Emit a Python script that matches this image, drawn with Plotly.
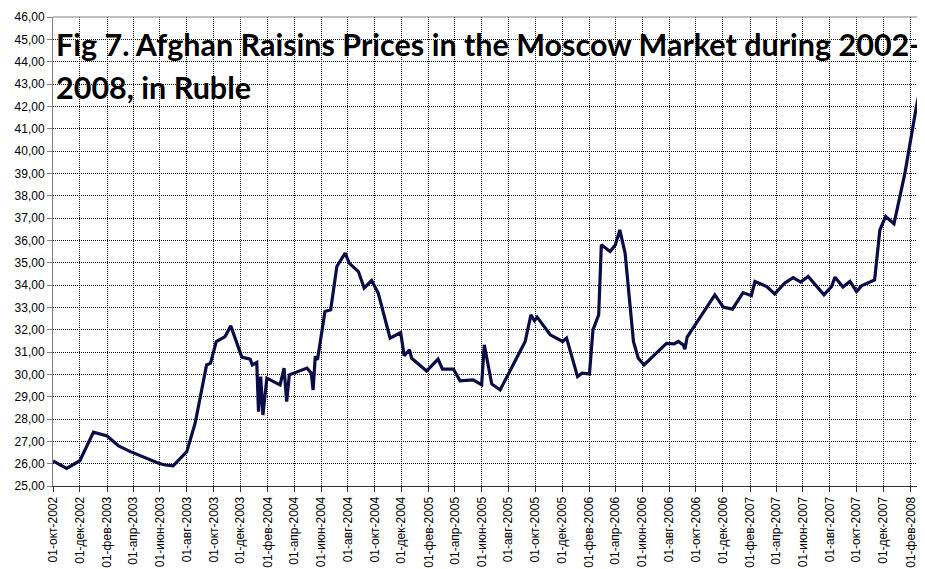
import plotly.graph_objects as go

# ---- data ----
dates = [
    "2002-10-01", "2002-11-01", "2002-12-01", "2003-01-01", "2003-02-01", "2003-02-27",
    "2003-03-26", "2003-05-29", "2003-06-13", "2003-07-01", "2003-08-01", "2003-08-20",
    "2003-09-15", "2003-09-24", "2003-10-07", "2003-10-27", "2003-11-09", "2003-12-04",
    "2003-12-23", "2003-12-28", "2004-01-07", "2004-01-11", "2004-01-16", "2004-01-21",
    "2004-01-30", "2004-02-29", "2004-03-09", "2004-03-15", "2004-03-21", "2004-04-30",
    "2004-05-10", "2004-05-14", "2004-05-19", "2004-05-24", "2004-06-10", "2004-06-23",
    "2004-07-07", "2004-07-26", "2004-08-04", "2004-08-25", "2004-09-07", "2004-09-24",
    "2004-10-09", "2004-11-05", "2004-11-29", "2004-12-07", "2004-12-19", "2004-12-24",
    "2005-01-27", "2005-02-22", "2005-03-04", "2005-03-29", "2005-04-13", "2005-05-13",
    "2005-06-01", "2005-06-07", "2005-06-24", "2005-07-13", "2005-09-08", "2005-09-21",
    "2005-09-29", "2005-10-05", "2005-11-04", "2005-12-02", "2005-12-11", "2006-01-05",
    "2006-01-15", "2006-02-01", "2006-02-09", "2006-02-22", "2006-02-28", "2006-03-20",
    "2006-04-01", "2006-04-11", "2006-04-23", "2006-04-30", "2006-05-12", "2006-05-23",
    "2006-06-05", "2006-07-26", "2006-08-12", "2006-08-22", "2006-09-02", "2006-09-06",
    "2006-09-11", "2006-11-13", "2006-12-02", "2006-12-23", "2007-01-16", "2007-02-04",
    "2007-02-12", "2007-03-11", "2007-03-29", "2007-04-21", "2007-05-10", "2007-05-27",
    "2007-06-13", "2007-07-19", "2007-08-05", "2007-08-13", "2007-08-31", "2007-09-16",
    "2007-10-01", "2007-10-12", "2007-11-11", "2007-11-23", "2007-12-06", "2007-12-25",
    "2008-01-19", "2008-02-14", "2008-03-05",
]
prices = [
    26.12, 25.79, 26.13, 27.41, 27.24, 26.79,
    26.54, 26.02, 25.94, 25.90, 26.54, 27.81,
    30.42, 30.50, 31.47, 31.69, 32.17, 30.77,
    30.68, 30.42, 30.53, 28.33, 29.90, 28.18,
    29.83, 29.53, 30.28, 28.78, 29.98, 30.28,
    30.05, 29.30, 30.80, 30.65, 32.81, 32.89,
    34.83, 35.43, 34.98, 34.60, 33.86, 34.20,
    33.64, 31.62, 31.87, 30.83, 31.10, 30.72,
    30.15, 30.68, 30.23, 30.23, 29.71, 29.75,
    29.53, 31.32, 29.57, 29.30, 31.47, 32.66,
    32.40, 32.56, 31.77, 31.47, 31.62, 29.90,
    30.05, 30.02, 31.99, 32.66, 35.80, 35.50,
    35.80, 36.47, 35.43, 34.09, 31.47, 30.72,
    30.42, 31.39, 31.36, 31.47, 31.32, 31.13,
    31.67, 33.56, 33.01, 32.92, 33.66, 33.52,
    34.16, 33.93, 33.60, 34.09, 34.33, 34.13,
    34.38, 33.56, 33.93, 34.35, 33.91, 34.16,
    33.71, 33.96, 34.23, 36.47, 37.07, 36.74,
    39.02, 42.00, 43.80,
]

ru_months = ["янв", "фев", "мар", "апр", "май", "июн",
             "июл", "авг", "сен", "окт", "ноя", "дек"]
tick_dates = []
tick_labels = []
y_, m_ = 2002, 10
while (y_, m_) <= (2008, 2):
    tick_dates.append(f"{y_}-{m_:02d}-01")
    tick_labels.append(f"01-{ru_months[m_ - 1]}-{y_}")
    m_ += 2
    if m_ > 12:
        m_ -= 12
        y_ += 1

y_ticks = list(range(25, 47))

title_line1 = "Fig 7. Afghan Raisins Prices in the Moscow Market during 2002-"
title_line2 = "2008, in Ruble"

# ---- figure ----
fig = go.Figure()
fig.add_trace(go.Scatter(
    x=dates, y=prices, mode="lines",
    line=dict(color="#0b0b48", width=3.2),
    showlegend=False, hoverinfo="skip",
))

tick_font = dict(family="Liberation Sans, Arial, sans-serif", size=12, color="#000000")
title_font = dict(family="Lato, sans-serif", size=30.5, color="#000000", weight="bold")

# the page body has an 8px default margin, so margins are offset by 8px
fig.update_layout(
    width=925, height=569,
    margin=dict(l=45, r=8, t=9, b=91),
    paper_bgcolor="white", plot_bgcolor="white",
    separators=", ",
    xaxis=dict(
        type="date",
        range=["2002-10-01", "2008-03-04 12:00"],
        tickmode="array", tickvals=tick_dates, ticktext=tick_labels,
        tickangle=-90, tickfont=tick_font,
        ticks="outside", ticklen=5, tickcolor="#333333",
        showline=True, linecolor="#333333", linewidth=1,
        showgrid=True, gridcolor="#111111", gridwidth=1, griddash="1px,1px",
        zeroline=False, fixedrange=True, automargin=False,
    ),
    yaxis=dict(
        range=[25, 46],
        tickmode="array", tickvals=y_ticks,
        tickformat=".2f", tickfont=tick_font,
        ticks="outside", ticklen=5, tickcolor="#808080",
        showline=True, linecolor="#808080", linewidth=1,
        showgrid=True, gridcolor="#111111", gridwidth=1, griddash="1px,1px",
        zeroline=False, fixedrange=True, automargin=False,
    ),
    shapes=[dict(type="line", xref="paper", yref="paper", x0=0, x1=1, y0=1, y1=1,
                 line=dict(color="#808080", width=1))],
    annotations=[
        dict(text=title_line1, xref="paper", yref="paper", x=0.001, y=0.942,
             xanchor="left", yanchor="middle", showarrow=False, font=title_font),
        dict(text=title_line2, xref="paper", yref="paper", x=0.001, y=0.850,
             xanchor="left", yanchor="middle", showarrow=False, font=title_font),
    ],
)

fig.write_html("out.html")
